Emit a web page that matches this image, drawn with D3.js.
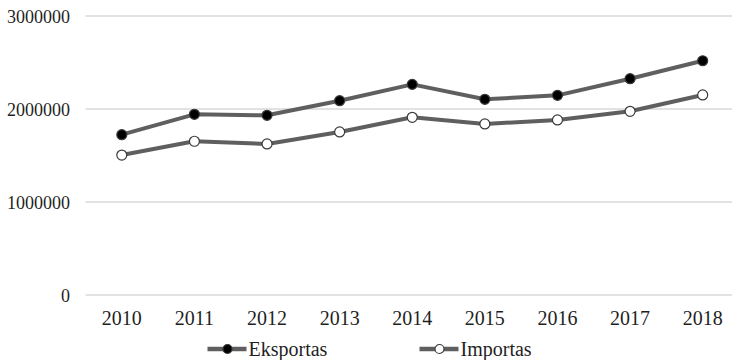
<!DOCTYPE html>
<html>
<head>
<meta charset="utf-8">
<script src="https://cdn.jsdelivr.net/npm/d3@7"></script>
<style>
  html, body { margin: 0; padding: 0; background: #fff; }
  svg { display: block; }
  svg text { font-family: "Liberation Serif", "Times New Roman", Times, "DejaVu Serif", serif !important; fill: #1f1f1f; }
</style>
</head>
<body>
<svg id="chart" width="732" height="360"></svg>
<script>
// Years on the category axis
const years = ["2010", "2011", "2012", "2013", "2014", "2015", "2016", "2017", "2018"];
// Export and import totals per year
const eksportas = [1724000, 1943000, 1932000, 2089000, 2265000, 2104000, 2147000, 2326000, 2519000];
const importas  = [1505000, 1653000, 1624000, 1753000, 1911000, 1839000, 1882000, 1975000, 2151000];
// Value axis ticks
const yTicks = [0, 1000000, 2000000, 3000000];
const seriesNames = ["Eksportas", "Importas"];

const serif = "'Liberation Serif', 'Times New Roman', Times, 'DejaVu Serif', serif";
const svg = d3.select("#chart");

const x = d3.scaleBand().domain(years).range([85.5, 739]).padding(0);
const y = d3.scaleLinear().domain([0, 3000000]).range([295, 16]);
const cx = d => x(d) + x.bandwidth() / 2;

// Horizontal gridlines
svg.append("g")
  .selectAll("line")
  .data(yTicks)
  .join("line")
  .attr("x1", 85.5).attr("x2", 732)
  .attr("y1", d => y(d)).attr("y2", d => y(d))
  .attr("stroke", "#d9d9d9").attr("stroke-width", 1.5);

// Value axis labels
const yAxis = d3.axisLeft(y).tickValues(yTicks).tickSize(0).tickPadding(0).tickFormat(d3.format("d"));
svg.append("g")
  .attr("transform", "translate(70,0)")
  .call(yAxis)
  .attr("font-family", null)
  .call(g => g.select(".domain").remove())
  .call(g => g.selectAll("text")
    .style("font-family", serif)
    .style("font-size", "18px")
    .attr("dy", "0.36em"));

// Category axis labels
const xAxis = d3.axisBottom(x).tickSize(0).tickPadding(0);
svg.append("g")
  .attr("transform", "translate(0,325)")
  .call(xAxis)
  .attr("font-family", null)
  .call(g => g.select(".domain").remove())
  .call(g => g.selectAll("text")
    .style("font-family", serif)
    .style("font-size", "20px")
    .attr("dy", 0));

const line = d3.line().x(d => cx(d.year)).y(d => y(d.value));
const series = [
  { name: seriesNames[0], values: eksportas, fill: "#000000" },
  { name: seriesNames[1], values: importas, fill: "#ffffff" }
];

series.forEach(s => {
  const pts = years.map((yr, i) => ({ year: yr, value: s.values[i] }));
  svg.append("path")
    .datum(pts)
    .attr("d", line)
    .attr("fill", "none")
    .attr("stroke", "#5f5f5f")
    .attr("stroke-width", 4)
    .attr("stroke-linejoin", "round");
  svg.append("g")
    .selectAll("circle")
    .data(pts)
    .join("circle")
    .attr("cx", d => cx(d.year))
    .attr("cy", d => y(d.value))
    .attr("r", 5)
    .attr("fill", s.fill)
    .attr("stroke", "#3a3a3a")
    .attr("stroke-width", 1.2);
});

// Legend
const legendX = [207.5, 419.5];
const legend = svg.append("g");
series.forEach((s, i) => {
  const g = legend.append("g").attr("transform", `translate(${legendX[i]},349)`);
  g.append("line").attr("x1", 0).attr("x2", 39).attr("y1", 0).attr("y2", 0)
    .attr("stroke", "#5f5f5f").attr("stroke-width", 4.5);
  g.append("circle").attr("cx", 20).attr("cy", 0).attr("r", 4.5)
    .attr("fill", s.fill).attr("stroke", "#3a3a3a").attr("stroke-width", 1.1);
  g.append("text").attr("x", 41).attr("y", 6.5)
    .style("font-family", serif)
    .style("font-size", "20px")
    .text(s.name);
});
</script>
</body>
</html>
